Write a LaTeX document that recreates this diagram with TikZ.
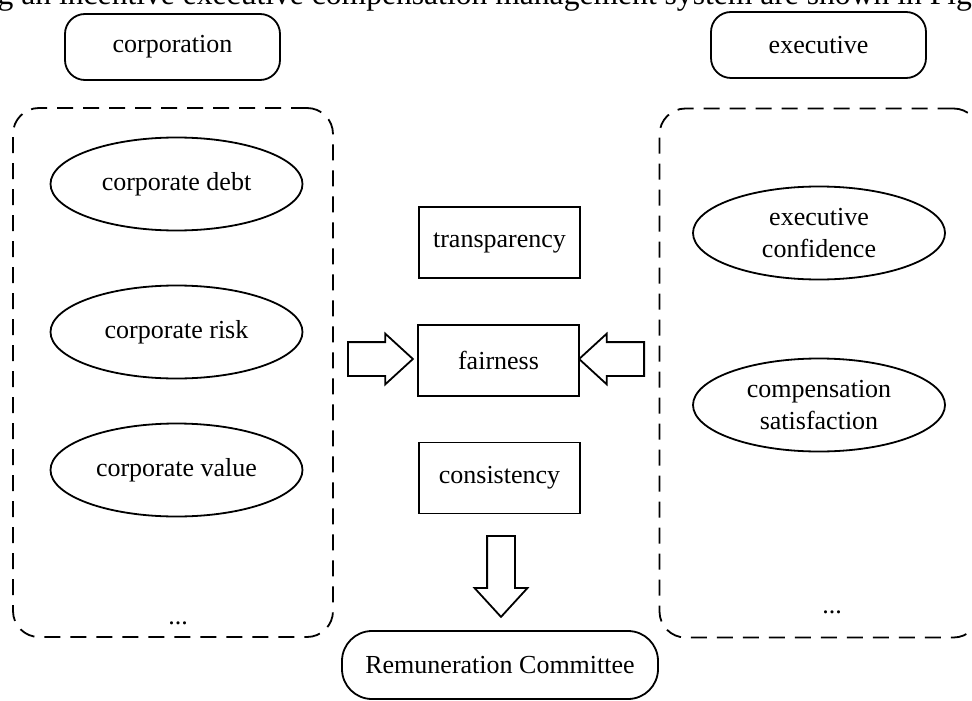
\documentclass[tikz,border=0pt]{standalone}
\usepackage{fontspec}
\setmainfont{Liberation Serif}
\usetikzlibrary{shapes.geometric,shapes.arrows,positioning}

\begin{document}
\begin{tikzpicture}[
  x=0.5pt, y=-0.5pt,
  font=\fontsize{13}{16}\selectfont,
  line width=0.9pt,
  actor/.style={draw, rounded corners=10pt, minimum width=107.5pt, minimum height=33pt},
  group/.style={draw, dashed, dash pattern=on 8pt off 5pt, rounded corners=13pt, minimum width=160pt, minimum height=264.5pt},
  factor/.style={draw, ellipse, minimum width=126pt, minimum height=46.5pt, inner sep=0pt, align=center},
  principle/.style={draw, minimum width=80.5pt, minimum height=35.5pt},
  bigArrow/.style={draw, single arrow, inner sep=8pt, minimum height=32.5pt, single arrow head extend=4.25pt, single arrow tip angle=85, anchor=tail}
]
  \useasboundingbox (0,0) rectangle (972,700);
  \clip (0,0) rectangle (972,700);

  \node[anchor=base west, inner sep=0pt, font=\fontsize{15.8}{19}\selectfont] (caption) at (-19,5) {ng an incentive executive compensation management system are shown in Figure};

  \node[actor] (corp) at (172.5,47) {corporation};
  \node[actor] (exec) at (818.5,45) {executive};

  \node[group] (corpGroup) at (173,372.5) {};
  \node[group] (execGroup) at (819.5,373) {};

  \node[factor] (debt) at (176.5,184) {corporate debt};
  \node[factor] (risk) at (176.5,332) {corporate risk};
  \node[factor] (value) at (176.5,470) {corporate value};
  \node (corpMore) at (178,623) {...};

  \node[factor] (confidence) at (819,233) {executive\\confidence};
  \node[factor] (satisfaction) at (819,405) {compensation\\satisfaction};
  \node (execMore) at (832,612) {...};

  \node[principle] (transparency) at (499.5,242.5) {transparency};
  \node[principle] (fairness) at (498.5,360.5) {fairness};
  \node[principle] (consistency) at (499.5,478) {consistency};

  \node[draw, rounded corners=15pt, minimum width=158pt, minimum height=34pt] (committee) at (500,665) {Remuneration Committee};

  % hollow arrows
  \node[bigArrow] (inLeft) at (347,359) {};
  \node[bigArrow, shape border rotate=180] (inRight) at (645,359) {};
  \node[bigArrow, shape border rotate=270, inner sep=6.5pt, single arrow head extend=6.25pt, minimum height=40.5pt] (down) at (501,535) {};
\end{tikzpicture}
\end{document}
